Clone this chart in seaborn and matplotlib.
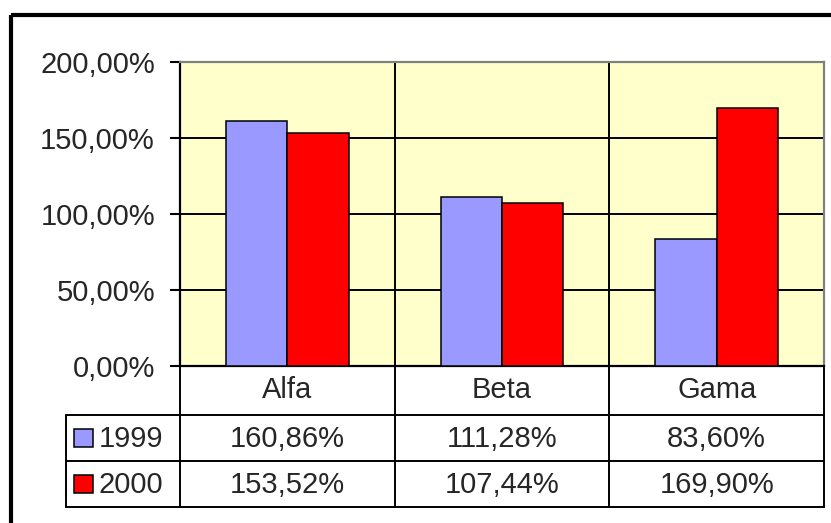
import matplotlib
matplotlib.use("Agg")
import matplotlib.pyplot as plt
import matplotlib.transforms as mtransforms
from matplotlib.patches import Rectangle
from matplotlib.ticker import FuncFormatter
import seaborn as sns
import pandas as pd

categories = ["Alfa", "Beta", "Gama"]
years = ["1999", "2000"]
values_1999 = [160.86, 111.28, 83.60]
values_2000 = [153.52, 107.44, 169.90]
y_ticks = [0, 50, 100, 150, 200]
colors = ["#9999FF", "#FF0000"]

df = pd.DataFrame({
    "cat": categories * 2,
    "year": [years[0]] * 3 + [years[1]] * 3,
    "val": values_1999 + values_2000,
})

def pct(v):
    return f"{v:.2f}%".replace(".", ",")

sns.set_style("white")
plt.rcParams["font.family"] = ["Liberation Sans", "DejaVu Sans"]

W, H = 831, 523
FS = 21
fig = plt.figure(figsize=(W / 100, H / 100), dpi=100)

# overlay in pixel coordinates for border and data table
over = fig.add_axes([0, 0, 1, 1], zorder=0)
over.set_xlim(0, W)
over.set_ylim(H, 0)
over.axis("off")

L, R, T, B = 180, 824, 62, 366
ax = fig.add_axes([L / W, 1 - B / H, (R - L) / W, (B - T) / H], zorder=2)
ax.set_facecolor("#FFFFCC")

sns.barplot(data=df, x="cat", y="val", hue="year", palette=colors,
            saturation=1, width=0.57, edgecolor="black", linewidth=1.1,
            ax=ax, legend=False, zorder=3)
ax.set_ylim(0, 200)
ax.set_xlim(-0.5, 2.5)
ax.set_xlabel(""); ax.set_ylabel("")
ax.set_xticks([])
ax.set_yticks(y_ticks)
ax.yaxis.set_major_formatter(FuncFormatter(lambda v, p: pct(v)))
ax.tick_params(axis="y", direction="out", length=7, width=1.5,
               pad=11, labelsize=FS, left=True, color="black")
for y in y_ticks[1:-1]:
    ax.axhline(y, color="black", lw=1.4, zorder=1)
for x in [0.5, 1.5]:
    ax.axvline(x, color="black", lw=1.4, zorder=1)
ax.spines["left"].set_color("black"); ax.spines["left"].set_linewidth(1.6)
ax.spines["bottom"].set_color("black"); ax.spines["bottom"].set_linewidth(1.6)
for s in ["top", "right"]:
    ax.spines[s].set_color("#808080"); ax.spines[s].set_linewidth(1.6)

# outer chart border (runs off the image on right and bottom)
over.add_patch(Rectangle((10.5, 14.5), W + 20, H + 20, fill=False,
                         edgecolor="black", lw=3))

# data table
tr = mtransforms.blended_transform_factory(ax.transData, over.transData)
rows = [366, 415, 461, 507]
lw = 1.4
over.plot([L, R], [rows[0], rows[0]], color="black", lw=lw)
for y in rows[1:]:
    over.plot([66, R], [y, y], color="black", lw=lw)
over.plot([66, 66], [rows[1], rows[3]], color="black", lw=lw)
for x in [-0.5, 0.5, 1.5, 2.5]:
    over.plot([x, x], [rows[0], rows[3]], color="black", lw=lw, transform=tr)

for i, c in enumerate(categories):
    over.text(i, (rows[0] + rows[1]) / 2, c, transform=tr, ha="center",
              va="center", fontsize=FS)
for r, (yr, vals, col) in enumerate(zip(years, [values_1999, values_2000], colors)):
    yc = (rows[r + 1] + rows[r + 2]) / 2
    over.add_patch(Rectangle((74, yc - 9), 19, 18, facecolor=col,
                             edgecolor="black", lw=1.1))
    over.text(99, yc + 1, yr, ha="left", va="center", fontsize=FS)
    for i, v in enumerate(vals):
        over.text(i, yc + 1, pct(v), transform=tr, ha="center",
                  va="center", fontsize=FS)

fig.savefig("out.png", dpi=100)
